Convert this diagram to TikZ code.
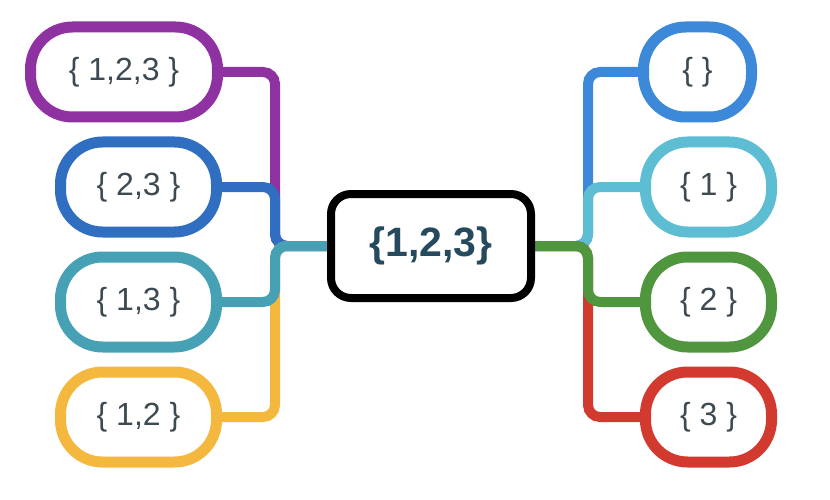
\documentclass[tikz,border=0pt]{standalone}
\usepackage{fontspec}
\setmainfont{Liberation Sans}
\usetikzlibrary{positioning,backgrounds}
\definecolor{cpurple}{HTML}{8E32A2}
\definecolor{cblueL}{HTML}{2F6EC1}
\definecolor{cteal}{HTML}{47A1B5}
\definecolor{cyellow}{HTML}{F3B83D}
\definecolor{cblueR}{HTML}{3C88D9}
\definecolor{csky}{HTML}{5DBDD3}
\definecolor{cgreen}{HTML}{50963F}
\definecolor{cred}{HTML}{D23A30}
\definecolor{ctext}{HTML}{3E4A51}
\definecolor{chub}{HTML}{25495D}

\begin{document}
\begin{tikzpicture}[
  x=1pt,y=-1pt,
  leaf/.style={draw=#1,line width=11pt,fill=white,rounded corners=42pt,
    minimum height=90pt,inner sep=0pt,text=ctext,font=\fontsize{32}{38}\selectfont},
  hubbox/.style={draw=black,line width=8pt,fill=white,rounded corners=20pt,
    minimum width=200pt,minimum height=104pt,inner sep=0pt,text=chub,
    font=\fontsize{41}{48}\selectfont\bfseries},
  link/.style={line width=10pt,rounded corners=12pt,#1}
]
\useasboundingbox (0,0) rectangle (830,500);
% ---------- root ----------
\node[hubbox] (set) at (431,246) {\{1,2,3\}};
% ---------- left branch ----------
\node[leaf=cpurple,minimum width=187pt] (l123) at (124,72) {\{ 1,2,3 \}};
\node[leaf=cblueL,minimum width=156pt] (l23) at (138.5,187) {\{ 2,3 \}};
\node[leaf=cteal,minimum width=156pt] (l13) at (138.5,302) {\{ 1,3 \}};
\node[leaf=cyellow,minimum width=156pt] (l12) at (138.5,417) {\{ 1,2 \}};
% ---------- right branch ----------
\node[leaf=cblueR,minimum width=108pt] (r0) at (697.5,72) {\{ \}};
\node[leaf=csky,minimum width=126pt] (r1) at (708.5,187) {\{ 1 \}};
\node[leaf=cgreen,minimum width=126pt] (r2) at (708.5,302) {\{ 2 \}};
\node[leaf=cred,minimum width=126pt] (r3) at (708.5,417) {\{ 3 \}};
\coordinate (busL) at (275,246);
\coordinate (busR) at (588,246);
% ---------- connectors ----------
\begin{scope}[on background layer]
\draw[link=cpurple] (set.west) -- (busL) |- (l123.east);
\draw[link=cblueL] (set.west) -- (busL) |- (l23.east);
\draw[link=cyellow] (set.west) -- (busL) |- (l12.east);
\draw[link=cteal] (set.west) -- (busL) |- (l13.east);
\draw[link=cblueR] (set.east) -- (busR) |- (r0.west);
\draw[link=csky] (set.east) -- (busR) |- (r1.west);
\draw[link=cred] (set.east) -- (busR) |- (r3.west);
\draw[link=cgreen] (set.east) -- (busR) |- (r2.west);
\end{scope}
\end{tikzpicture}
\end{document}
